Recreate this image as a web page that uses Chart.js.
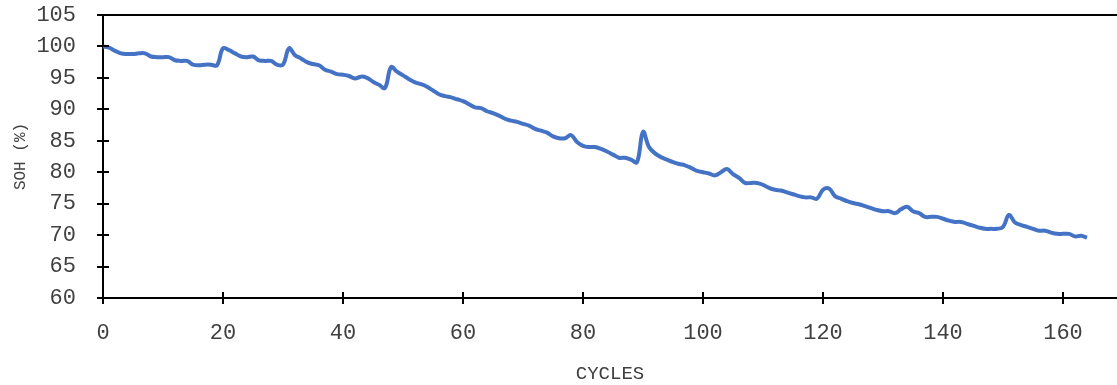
<!DOCTYPE html>
<html lang="en">
<head>
  <meta charset="UTF-8">
  <title>SOH vs cycles</title>
  <script src="https://cdn.jsdelivr.net/npm/chart.js"></script>
  <style>
    html, body { margin: 0; padding: 0; background: #fff; }
    .wrap { width: 1117px; height: 385px; }
  </style>
</head>
<body>
  <div class="wrap"><canvas id="sohChart"></canvas></div>

  <script>
    // values, one per cycle (0..164)
    const cycles = [];
    for (let i = 0; i <= 164; i++) cycles.push(i);

    const soh = [
      100.0, 99.8, 99.3, 98.9, 98.8, 98.8, 98.9, 98.9, 98.4, 98.3,
      98.3, 98.3, 97.8, 97.7, 97.7, 97.1, 97.0, 97.1, 97.1, 97.0,
      99.7, 99.4, 98.9, 98.4, 98.3, 98.4, 97.8, 97.7, 97.7, 97.1,
      97.1, 99.7, 98.6, 98.1, 97.5, 97.2, 97.0, 96.3, 96.0, 95.6,
      95.5, 95.3, 94.9, 95.2, 95.0, 94.4, 93.9, 93.4, 96.7, 96.0,
      95.4, 94.8, 94.3, 94.0, 93.6, 93.0, 92.4, 92.1, 91.9, 91.6,
      91.3, 90.8, 90.3, 90.2, 89.7, 89.4, 89.0, 88.5, 88.2, 88.0,
      87.7, 87.4, 86.9, 86.6, 86.3, 85.7, 85.4, 85.4, 85.9, 84.8,
      84.2, 84.0, 84.0, 83.7, 83.3, 82.8, 82.3, 82.3, 82.0, 81.6,
      86.4, 84.0, 83.0, 82.4, 82.0, 81.6, 81.3, 81.1, 80.7, 80.2,
      80.0, 79.8, 79.5, 80.0, 80.5, 79.7, 79.1, 78.3, 78.3, 78.3,
      78.0, 77.5, 77.2, 77.1, 76.8, 76.5, 76.2, 76.0, 76.0, 75.8,
      77.2, 77.4, 76.2, 75.8, 75.4, 75.1, 74.9, 74.6, 74.3, 74.0,
      73.8, 73.8, 73.5, 74.1, 74.5, 73.8, 73.5, 72.9, 72.9, 72.9,
      72.6, 72.3, 72.1, 72.1, 71.8, 71.5, 71.2, 71.0, 71.0, 71.0,
      71.3, 73.2, 72.0, 71.6, 71.3, 71.0, 70.7, 70.7, 70.4, 70.2,
      70.2, 70.2, 69.8, 69.9, 69.6
    ];

    const xTicks = [0, 20, 40, 60, 80, 100, 120, 140, 160];
    const yTicks = [60, 65, 70, 75, 80, 85, 90, 95, 100, 105];

    const textColor = "#404040";
    const monoFont = "'Liberation Mono', 'Courier New', monospace";

    // tick marks that cross the axis line + the line along the top at 105
    const crossTicks = {
      id: "crossTicks",
      afterDraw(chart) {
        const ctx = chart.ctx;
        const x = chart.scales.x;
        const y = chart.scales.y;
        const area = chart.chartArea;
        ctx.save();
        ctx.strokeStyle = "#000";
        ctx.lineWidth = 2;
        ctx.beginPath();
        xTicks.forEach(v => {
          const px = Math.round(x.getPixelForValue(v));
          ctx.moveTo(px, area.bottom - 6);
          ctx.lineTo(px, area.bottom + 6);
        });
        yTicks.forEach(v => {
          const py = Math.round(y.getPixelForValue(v));
          ctx.moveTo(area.left - 6, py);
          ctx.lineTo(area.left + 6, py);
        });
        const top = Math.round(y.getPixelForValue(105));
        ctx.moveTo(area.left, top);
        ctx.lineTo(area.right, top);
        ctx.stroke();
        ctx.restore();
      }
    };

    new Chart(document.getElementById("sohChart"), {
      type: "line",
      data: {
        labels: cycles,
        datasets: [{
          label: "SOH",
          data: cycles.map((c, i) => ({ x: c, y: soh[i] })),
          borderColor: "#4472C4",
          borderWidth: 4,
          pointRadius: 0,
          tension: 0.4,
          fill: false
        }]
      },
      options: {
        responsive: true,
        maintainAspectRatio: false,
        animation: false,
        layout: { padding: { top: 15, right: 0, bottom: 0, left: 0 } },
        plugins: {
          legend: { display: false },
          tooltip: { enabled: false }
        },
        scales: {
          x: {
            type: "linear",
            min: 0,
            max: 169,
            grid: { display: false },
            border: { display: true, color: "#000", width: 2 },
            ticks: {
              stepSize: 20,
              includeBounds: false,
              padding: 14,
              color: textColor,
              font: { family: monoFont, size: 22 }
            },
            title: {
              display: true,
              text: "CYCLES",
              color: textColor,
              padding: { top: 0, bottom: 0 },
              font: { family: monoFont, size: 19 }
            },
            afterFit(scale) {
              scale.height = 87;
              scale.paddingLeft = 0;
              scale.paddingRight = 0;
            }
          },
          y: {
            min: 60,
            max: 105,
            grid: { display: false },
            border: { display: true, color: "#000", width: 2 },
            ticks: {
              stepSize: 5,
              padding: 19,
              color: textColor,
              font: { family: monoFont, size: 22 }
            },
            title: {
              display: true,
              text: "SOH (%)",
              color: textColor,
              padding: { top: 11, bottom: 0 },
              font: { family: monoFont, size: 16 }
            },
            afterFit(scale) {
              scale.width = 103;
              scale.paddingTop = 0;
              scale.paddingBottom = 0;
            }
          }
        }
      },
      plugins: [crossTicks]
    });
  </script>
</body>
</html>
